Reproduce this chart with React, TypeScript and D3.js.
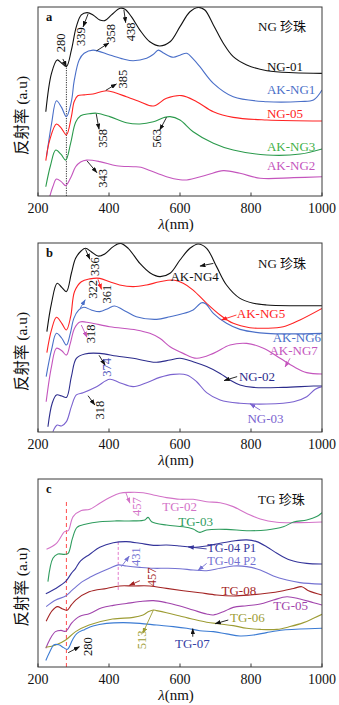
import React from 'react';
import * as d3 from 'd3';

type Pt = [number, number];

const wavelengthTicks = [200, 400, 600, 800, 1000];

// ---- Panel a (NG pearls) ----
const ng01: Pt[] = [[222,44.6],[238,64.9],[254,72.0],[266,70.4],[280,68.5],[294,77.2],[308,89.6],[322,95.8],[338,97.0],[355,95.8],[374,93.1],[388,92.8],[407,95.8],[431,99.3],[445,98.8],[463,94.9],[487,87.8],[515,81.6],[543,79.4],[572,81.6],[600,89.6],[628,97.5],[652,99.8],[670,98.4],[694,90.5],[722,80.8],[750,73.7],[788,69.3],[845,66.3],[920,65.2],[1000,64.9]];
const akng1: Pt[] = [[224,20.8],[238,38],[252,50.4],[266,47],[280,42.0],[294,50],[302,61],[316,72],[330,75.5],[355,77.2],[402,74.6],[440,72.5],[468,71.6],[506,72.9],[525,75],[539,77.2],[555,75.5],[581,73.4],[600,74.5],[619,75.5],[637,72.5],[656,68.4],[694,59.6],[750,52.5],[845,49.9],[940,50.0],[976,50.8],[1000,56.1]];
const ng05: Pt[] = [[222,18.7],[233,29.6],[252,38.1],[266,35.8],[280,32.3],[294,42],[302,50],[312,53],[330,53.5],[355,54],[393,55.7],[420,54.5],[449,52.5],[487,49.9],[525,47.6],[562,51.7],[605,53.1],[647,49.9],[694,44.6],[750,41.6],[845,40.2],[1000,39.7]];
const akng3: Pt[] = [[222,4.9],[235,16],[250,24.3],[265,22],[278,19.0],[292,28],[306,39],[320,42.5],[344,43.5],[365,43.8],[402,42.0],[449,38.8],[487,38.1],[525,39.3],[555,41.5],[572,42.0],[600,40.2],[637,34.0],[694,27.9],[750,24.3],[845,21.7],[939,22.2],[1000,24.9]];
const akng2: Pt[] = [[232,-1],[242,5],[252,9.0],[266,7.5],[278,5.5],[294,10.5],[306,15.5],[320,18],[337,19.0],[374,18.2],[421,16.0],[468,15.5],[490,15.2],[515,13.5],[562,10.2],[600,8.6],[619,8.5],[675,11.1],[722,13.4],[769,12.0],[826,9.4],[920,9.7],[1000,10.2]];

// ---- Panel b (NG pearls) ----
const akng4: Pt[] = [[225,53.1],[238,68.1],[254,78.7],[267,76.5],[280,74.3],[294,84.0],[306,91.9],[322,95.9],[334,97.2],[350,95.4],[369,93.1],[388,94.2],[412,98.1],[432,99.8],[454,97.2],[487,89.2],[515,84.3],[543,82.2],[572,84.0],[600,91.0],[628,97.2],[651,99.5],[675,97.2],[703,87.5],[731,77.8],[769,70.7],[807,68.1],[844,67.2],[920,66.8],[1000,66.8]];
const akng5: Pt[] = [[225,42.0],[238,54.0],[252,60.7],[267,57.5],[280,54.0],[292,61.0],[303,74.3],[322,79.5],[346,81.0],[374,81.3],[402,79.5],[430,77.8],[468,76.9],[506,77.8],[543,79.5],[581,80.4],[609,78.7],[637,75.1],[675,68.1],[713,61.9],[750,57.5],[797,55.2],[844,54.9],[891,55.7],[938,59.3],[1000,65.4]];
const akng6: Pt[] = [[223,29.3],[238,43.4],[252,52.2],[267,49.6],[280,46.0],[291,52.2],[301,60.1],[315,64.6],[329,66.0],[350,64.6],[374,63.7],[398,65.4],[416,66.7],[440,64.6],[477,61.0],[534,59.6],[572,61.0],[604,62.4],[637,64.6],[661,68.4],[673,67.7],[694,62.8],[731,57.5],[769,54.3],[844,52.2],[1000,52.2]];
const akng7: Pt[] = [[223,16.0],[238,34.6],[252,44.3],[267,43.0],[280,40.7],[291,46.9],[303,54.9],[318,58.2],[346,57.8],[402,55.7],[477,54.0],[515,52.2],[543,49.6],[572,45.1],[609,41.6],[647,39.0],[694,41.6],[741,46.0],[788,46.9],[835,44.3],[882,39.0],[920,34.6],[957,31.4],[1000,30.7]];
const ng02: Pt[] = [[228,2.8],[240,15.2],[252,19.6],[267,19.0],[280,18.3],[294,29.3],[308,39.0],[332,41.3],[374,41.6],[421,40.2],[468,39.0],[506,37.6],[534,36.9],[572,38.1],[600,39.0],[637,37.2],[675,34.6],[713,31.0],[741,27.5],[769,24.9],[807,23.6],[891,23.6],[976,24.3],[1000,24.3]];
const ng03: Pt[] = [[242,0.2],[254,3.7],[266,3.2],[280,5.5],[294,13.4],[308,19.6],[327,20.8],[365,24.0],[402,27.9],[430,26.1],[468,24.0],[506,26.1],[543,28.9],[581,30.5],[619,30.2],[647,26.6],[675,20.8],[713,16.9],[769,15.2],[844,14.8],[920,16.0],[957,18.7],[981,22.6],[1000,24.0]];

// ---- Panel c (TG pearls) ----
const tg02: Pt[] = [[224,62.6],[252,65.8],[275,72.0],[285,72.5],[299,80.0],[322,83.2],[346,83.9],[374,87.1],[402,90.1],[430,92.4],[459,92.9],[496,92.7],[525,91.5],[562,90.1],[600,89.2],[637,89.2],[675,87.9],[713,87.4],[750,85.3],[788,81.7],[826,78.7],[873,77.0],[938,76.8],[1000,77.1]];
const tg03: Pt[] = [[228,45.4],[242,57.8],[256,60.1],[275,59.9],[285,60.5],[297,68.4],[310,74.3],[336,76.1],[374,77.3],[421,77.7],[468,77.7],[501,78.2],[510,79.6],[520,77.3],[562,75.5],[609,74.6],[637,73.4],[656,71.6],[675,72.9],[731,73.2],[788,72.5],[844,72.9],[891,74.6],[920,77.1],[957,78.2],[985,80.0],[1000,82.1]];
const tg04p1: Pt[] = [[222,39],[250,41.8],[278,45.5],[294,49.8],[306,52.5],[320,56.5],[346,60],[374,63.7],[412,66.1],[449,66.7],[487,65.8],[525,64.7],[562,64.9],[600,64.4],[637,63.7],[675,64.4],[713,65.8],[750,67.0],[788,67.6],[816,66.7],[844,64.0],[873,60.5],[910,56.9],[957,55.1],[1000,54.8]];
const tg04p2: Pt[] = [[223,32.1],[250,35.6],[278,37.8],[297,41.0],[325,45.4],[346,47.7],[374,50.2],[402,52.5],[426,54.3],[449,53.7],[487,53.0],[525,52.5],[562,52.5],[600,52.3],[637,51.6],[675,51.2],[713,52.5],[750,53.7],[788,53.4],[826,51.6],[863,48.4],[901,46.3],[938,44.9],[1000,44.1]];
const tg08: Pt[] = [[223,24.3],[240,30],[255,32.1],[268,31],[282,30.2],[294,33],[306,35.6],[344,40.0],[393,41.8],[430,43.1],[468,43.1],[515,43.1],[562,41.8],[609,40.6],[656,39.5],[703,38.3],[750,37.8],[797,38.3],[844,39.2],[891,40.6],[920,41.8],[943,42.7],[962,40.6],[1000,38.3]];
const tg05: Pt[] = [[222,10],[233,14.5],[249,18.8],[265,19.5],[278,19.0],[294,23.2],[306,25.5],[318,27],[346,28.5],[380,31.5],[412,32.8],[449,33.8],[487,34.8],[525,35.3],[562,34.2],[600,32.4],[637,30.3],[675,28.2],[694,27.7],[722,29.4],[750,31.7],[788,32.6],[826,33.5],[863,35.6],[901,37.4],[938,36.2],[976,34.2],[1000,33.0]];
const tg06: Pt[] = [[222,10.5],[250,11.7],[278,14.4],[306,18.8],[344,22.3],[410,25.5],[468,26.4],[496,27.7],[512,29.5],[525,30.3],[534,30.0],[562,28.9],[600,27.1],[637,25.4],[675,23.8],[713,22.9],[750,22.0],[788,20.6],[826,20.0],[873,20.0],[910,21.5],[948,23.6],[976,25.9],[1000,28.0]];
const tg07: Pt[] = [[222,3.5],[233,8],[245,11.8],[259,11.8],[272,10.3],[283,9.4],[297,14.4],[310,17.9],[332,20.0],[355,21.8],[393,23.2],[440,23.6],[487,23.2],[534,22.3],[581,21.5],[619,20.6],[656,19.3],[694,18.8],[731,17.6],[769,16.5],[807,17.0],[844,18.3],[891,19.7],[938,20.2],[1000,20.6]];

interface Series { data: Pt[]; color: string; }
interface Note {
  text: string; x: number; y: number; color: string;
  rot?: boolean; anchor?: 'start' | 'middle'; size?: number;
  arrow?: [number, number, number, number]; arrowColor?: string;
}
interface VLine { x: number; y1: number; y2: number; color: string; dash: string; }
interface Panel {
  letter: string; top: number; bottom: number; title: string; titlePos: Pt;
  series: Series[]; notes: Note[]; vlines: VLine[];
}

const C = {
  black: '#111111', blue: '#4a6fc8', red: '#ff2323', green: '#2b9a4c', magenta: '#c455bd',
  navy: '#2c2c8c', purple: '#7a62cf', pink: '#d373c8', green2: '#2f9c5e', navy2: '#34349a',
  purple2: '#7472d2', darkred: '#a32424', violet: '#a144ac', olive: '#9d9c34', blue2: '#3b7bd3',
};

const panels: Panel[] = [
  {
    letter: 'a', top: 7, bottom: 196, title: 'NG 珍珠', titlePos: [820, 89.6],
    series: [
      { data: ng01, color: C.black }, { data: akng1, color: C.blue }, { data: ng05, color: C.red },
      { data: akng3, color: C.green }, { data: akng2, color: C.magenta },
    ],
    vlines: [{ x: 280, y1: 0, y2: 68.4, color: '#333', dash: '1.2,1.2' }],
    notes: [
      { text: '280', x: 266, y: 81, color: C.black, rot: true, arrow: [270, 72.5, 280, 68.5] },
      { text: '339', x: 322, y: 84.3, color: C.black, rot: true, arrow: [341, 96.3, 327, 89.5] },
      { text: '358', x: 407, y: 86.1, color: C.black, rot: true, arrow: [365, 76.8, 400, 81] },
      { text: '438', x: 463, y: 86.9, color: C.black, rot: true, arrow: [442, 98.4, 447, 91.7] },
      { text: '385', x: 440, y: 61.9, color: C.black, rot: true, arrow: [391, 55.9, 421, 59.3] },
      { text: '358', x: 383, y: 30.5, color: C.black, rot: true, arrow: [364, 43.5, 372, 35.3] },
      { text: '563', x: 534, y: 30.5, color: C.black, rot: true, arrow: [562, 41.6, 543, 34.9] },
      { text: '343', x: 383, y: 9.3, color: C.black, rot: true, arrow: [338, 18.6, 366, 12.3] },
      { text: 'NG-01', x: 845, y: 68.4, color: C.black, anchor: 'start' },
      { text: 'AK-NG1', x: 845, y: 56.1, color: C.blue, anchor: 'start' },
      { text: 'NG-05', x: 845, y: 43.7, color: C.red, anchor: 'start' },
      { text: 'AK-NG3', x: 845, y: 26.1, color: '#3fb048', anchor: 'start' },
      { text: 'AK-NG2', x: 845, y: 16.0, color: C.magenta, anchor: 'start' },
    ],
  },
  {
    letter: 'b', top: 243, bottom: 432, title: 'NG 珍珠', titlePos: [820, 89.2],
    series: [
      { data: akng4, color: C.black }, { data: akng5, color: C.red }, { data: akng6, color: C.blue },
      { data: akng7, color: C.magenta }, { data: ng02, color: C.navy }, { data: ng03, color: C.purple },
    ],
    vlines: [],
    notes: [
      { text: '336', x: 360, y: 87.5, color: C.black, rot: true, arrow: [334, 96.6, 346, 91.4] },
      { text: '322', x: 355, y: 75.5, color: C.black, rot: true, arrow: [319, 65.5, 333, 70], arrowColor: C.blue },
      { text: '361', x: 395, y: 73.0, color: C.black, rot: true, arrow: [369, 80.8, 379, 75.5], arrowColor: C.red },
      { text: '318', x: 350, y: 51.9, color: C.black, rot: true, arrow: [322, 56.6, 338, 50.1], arrowColor: C.magenta },
      { text: '374', x: 393, y: 34.2, color: '#4c52b8', rot: true, arrow: [372, 40.6, 389, 35.4] },
      { text: '318', x: 374, y: 11.6, color: C.black, rot: true, arrow: [341, 19.2, 360, 14.3] },
      { text: 'AK-NG4', x: 573, y: 82.5, color: C.black, anchor: 'start', arrow: [694, 89.2, 656, 87.8] },
      { text: 'AK-NG5', x: 760, y: 62.8, color: C.red, anchor: 'start', arrow: [759, 61.9, 717, 59.3], arrowColor: C.red },
      { text: 'AK-NG6', x: 861, y: 50.1, color: C.blue, anchor: 'start' },
      { text: 'AK-NG7', x: 852, y: 43.0, color: C.magenta, anchor: 'start', arrow: [910, 39.0, 896, 34.4], arrowColor: C.magenta },
      { text: 'NG-02', x: 766, y: 29.3, color: C.navy, anchor: 'start', arrow: [761, 29.3, 724, 27.2] },
      { text: 'NG-03', x: 790, y: 6.9, color: C.purple, anchor: 'start', arrow: [826, 11.6, 797, 15.0], arrowColor: C.purple },
    ],
  },
  {
    letter: 'c', top: 479, bottom: 667, title: 'TG 珍珠', titlePos: [820, 89.2],
    series: [
      { data: tg02, color: C.pink }, { data: tg03, color: C.green2 }, { data: tg04p1, color: C.navy2 },
      { data: tg04p2, color: C.purple2 }, { data: tg08, color: C.darkred }, { data: tg05, color: C.violet },
      { data: tg06, color: C.olive }, { data: tg07, color: C.blue2 },
    ],
    vlines: [
      { x: 280, y1: 0, y2: 87.9, color: '#ff4d4d', dash: '4,3' },
      { x: 426, y1: 41, y2: 67.6, color: '#e27acb', dash: '3,2' },
    ],
    notes: [
      { text: '457', x: 479, y: 85.3, color: C.pink, rot: true, arrow: [447, 92.9, 459, 87.1], arrowColor: C.pink },
      { text: 'TG-02', x: 550, y: 85.6, color: C.pink, anchor: 'start' },
      { text: 'TG-03', x: 595, y: 77.3, color: C.green2, anchor: 'start' },
      { text: 'TG-04 P1', x: 677, y: 63.4, color: C.navy2, anchor: 'start', size: 12.3, arrow: [675, 62.8, 623, 63.9], arrowColor: C.navy2 },
      { text: '431', x: 476, y: 58.7, color: C.purple2, rot: true, arrow: [435, 53.4, 457, 59.0], arrowColor: C.purple2 },
      { text: 'TG-04 P2', x: 677, y: 56.2, color: C.purple2, anchor: 'start', size: 12.3, arrow: [675, 55.1, 651, 51.4], arrowColor: C.purple2 },
      { text: '457', x: 520, y: 48.0, color: C.darkred, rot: true, arrow: [487, 45.9, 457, 43.4], arrowColor: C.darkred },
      { text: 'TG-08', x: 717, y: 40.6, color: C.darkred, anchor: 'start' },
      { text: 'TG-05', x: 863, y: 32.6, color: C.violet, anchor: 'start' },
      { text: 'TG-06', x: 741, y: 26.4, color: C.olive, anchor: 'start', arrow: [736, 25.0, 699, 23.0] },
      { text: '513', x: 492, y: 14.4, color: C.olive, rot: true, arrow: [525, 30.3, 495, 17.9], arrowColor: C.olive },
      { text: 'TG-07', x: 586, y: 12.6, color: '#3440a4', anchor: 'start', arrow: [636, 16.1, 636, 20.4] },
      { text: '280', x: 341, y: 10.8, color: C.black, rot: true, arrow: [285, 7.6, 317, 10.8] },
    ],
  },
];

const W = 339, H = 705;
const LEFT = 38, RIGHT = 322;
const FONT = '"Liberation Serif", "Times New Roman", "Noto Sans CJK SC", serif';

const x = d3.scaleLinear().domain([200, 1000]).range([LEFT, RIGHT]);

function colorId(c: string) { return 'arr' + c.replace('#', ''); }

export default function App() {
  const arrowColors = new Set<string>();
  panels.forEach(p => p.notes.forEach(n => { if (n.arrow) arrowColors.add(n.arrowColor || C.black); }));

  return (
    <svg width={W} height={H} viewBox={`0 0 ${W} ${H}`}
      style={{ position: 'absolute', left: 0, top: 0, background: '#fff' }} fontFamily={FONT}>
      <defs>
        {[...arrowColors].map(c => (
          <marker key={c} id={colorId(c)} viewBox="0 0 8 6" refX="7.5" refY="3"
            markerWidth="6" markerHeight="4.5" markerUnits="userSpaceOnUse" orient="auto">
            <path d="M0,0 L8,3 L0,6 z" fill={c} />
          </marker>
        ))}
        {panels.map((p, i) => (
          <clipPath key={i} id={`clip${i}`}>
            <rect x={LEFT} y={p.top} width={RIGHT - LEFT} height={p.bottom - p.top} />
          </clipPath>
        ))}
      </defs>
      {panels.map((p, i) => {
        const y = d3.scaleLinear().domain([0, 100]).range([p.bottom, p.top]);
        const line = d3.line<Pt>().x(d => x(d[0])).y(d => y(d[1])).curve(d3.curveCatmullRom.alpha(0.5));
        const midY = (p.top + p.bottom) / 2 + 14;
        return (
          <g key={i}>
            <g clipPath={`url(#clip${i})`}>
              {p.vlines.map((v, j) => (
                <line key={j} x1={x(v.x)} x2={x(v.x)} y1={y(v.y1)} y2={y(v.y2)}
                  stroke={v.color} strokeWidth={1} strokeDasharray={v.dash} />
              ))}
              {p.series.map((s, j) => (
                <path key={j} d={line(s.data) || ''} fill="none" stroke={s.color} strokeWidth={1.1} />
              ))}
            </g>
            {p.notes.map((n, j) => (
              <g key={j}>
                {n.arrow && (
                  <line x1={x(n.arrow[0])} y1={y(n.arrow[1])} x2={x(n.arrow[2])} y2={y(n.arrow[3])}
                    stroke={n.arrowColor || C.black} strokeWidth={0.9}
                    markerEnd={`url(#${colorId(n.arrowColor || C.black)})`} />
                )}
                {n.rot ? (
                  <text transform={`translate(${x(n.x)},${y(n.y)}) rotate(-90)`} textAnchor="middle"
                    dominantBaseline="central" fontSize={12.5} fill={n.color}>{n.text}</text>
                ) : (
                  <text x={x(n.x)} y={y(n.y)} textAnchor={n.anchor || 'middle'}
                    dominantBaseline="central" fontSize={n.size || 13} fill={n.color}>{n.text}</text>
                )}
              </g>
            ))}
            <text x={x(p.titlePos[0])} y={y(p.titlePos[1])} dominantBaseline="central"
              fontSize={13} fill="#111">{p.title}</text>
            <text x={LEFT + 8} y={p.top + 10} dominantBaseline="central" fontSize={12.5}
              fontWeight="bold" fill="#111">{p.letter}</text>
            <rect x={LEFT} y={p.top} width={RIGHT - LEFT} height={p.bottom - p.top}
              fill="none" stroke="#3a3a3a" strokeWidth={1} />
            {wavelengthTicks.map(t => (
              <g key={t}>
                <line x1={x(t)} x2={x(t)} y1={p.bottom} y2={p.bottom - 3.5} stroke="#3a3a3a" strokeWidth={1} />
                <text x={x(t)} y={p.bottom + 12.5} textAnchor="middle" dominantBaseline="central"
                  fontSize={14} fill="#111">{t}</text>
              </g>
            ))}
            <text x={(LEFT + RIGHT) / 2 - 4} y={p.bottom + 27.5} textAnchor="middle"
              dominantBaseline="central" fontSize={15} fill="#111">
              <tspan fontStyle="italic">λ</tspan>(nm)
            </text>
            <text transform={`translate(21,${midY}) rotate(-90)`} textAnchor="middle"
              dominantBaseline="central" fontSize={15.5} fill="#111">反射率 (a.u)</text>
          </g>
        );
      })}
    </svg>
  );
}
